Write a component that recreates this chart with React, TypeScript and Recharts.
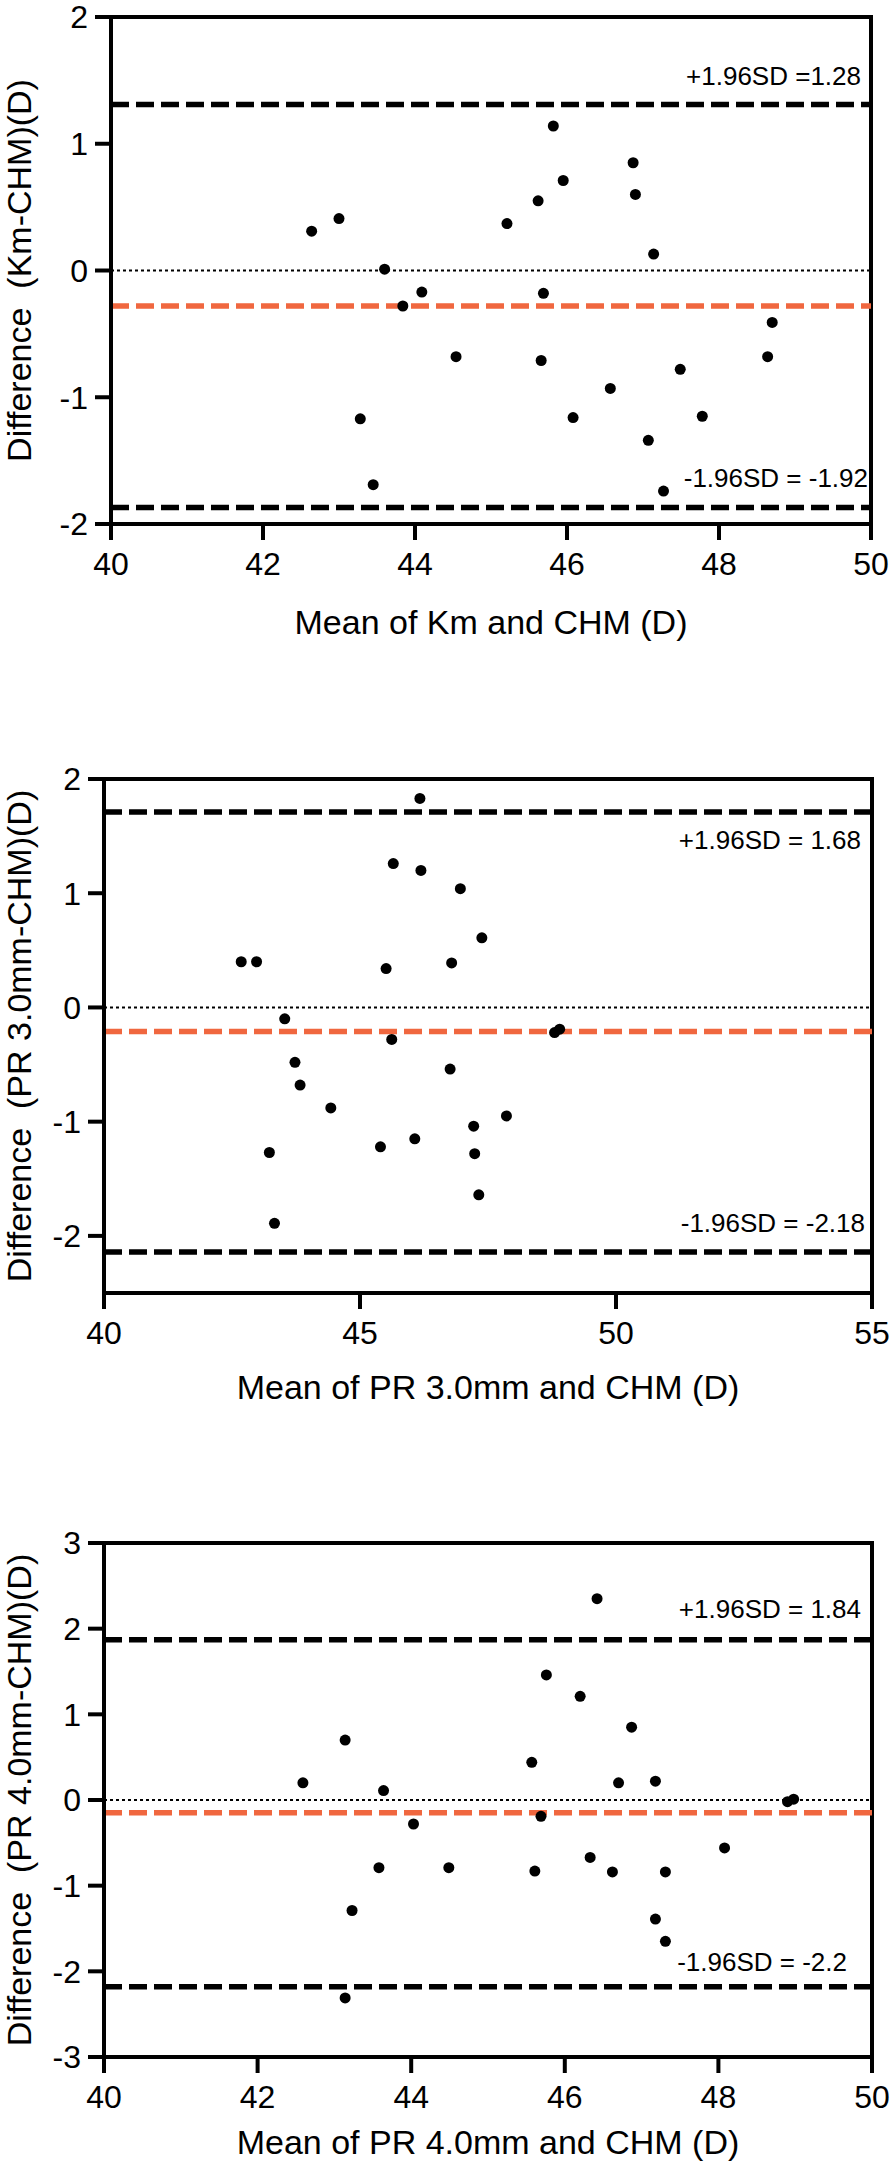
import { ScatterChart, Scatter, XAxis, YAxis, ReferenceLine, ReferenceArea, Label } from 'recharts';

const FONT = '"Liberation Sans", Arial, Helvetica, sans-serif';
const ORANGE = '#F0673F';

// Panel 1: Km vs CHM
const kmMeans = [42.64, 43.0, 43.6, 43.84, 44.09, 44.54, 43.28, 43.45, 45.21, 45.62, 45.82, 45.95, 45.69, 45.66, 46.08, 46.57, 46.87, 46.9, 47.14, 47.07, 47.27, 47.49, 47.78, 48.64, 48.7];
const kmDiffs = [0.31, 0.41, 0.01, -0.28, -0.17, -0.68, -1.17, -1.69, 0.37, 0.55, 1.14, 0.71, -0.18, -0.71, -1.16, -0.93, 0.85, 0.6, 0.13, -1.34, -1.74, -0.78, -1.15, -0.68, -0.41];
const kmLimits = [1.31, -0.28, -1.87]; // upper, mean, lower
const kmLimitText = ['+1.96SD =1.28', '-1.96SD = -1.92'];

// Panel 2: PR 3.0mm vs CHM
const pr3Means = [42.68, 42.98, 43.53, 43.73, 43.83, 44.43, 43.23, 43.33, 45.51, 45.65, 45.62, 45.4, 46.07, 46.17, 46.19, 46.96, 46.79, 46.76, 47.38, 47.22, 47.24, 47.32, 47.86, 48.8, 48.9];
const pr3Diffs = [0.4, 0.4, -0.1, -0.48, -0.68, -0.88, -1.27, -1.89, 0.34, 1.26, -0.28, -1.22, -1.15, 1.83, 1.2, 1.04, 0.39, -0.54, 0.61, -1.04, -1.28, -1.64, -0.95, -0.22, -0.19];
const pr3Limits = [1.71, -0.21, -2.14];
const pr3LimitText = ['+1.96SD = 1.68', '-1.96SD = -2.18'];

// Panel 3: PR 4.0mm vs CHM
const pr4Means = [42.59, 43.14, 43.23, 43.14, 43.64, 43.58, 44.03, 44.49, 45.57, 45.76, 45.69, 45.61, 46.2, 46.42, 46.33, 46.62, 46.7, 46.87, 47.18, 47.18, 47.31, 47.31, 48.08, 48.9, 48.98];
const pr4Diffs = [0.2, 0.7, -1.29, -2.31, 0.11, -0.79, -0.28, -0.79, 0.44, 1.46, -0.19, -0.83, 1.21, 2.35, -0.67, -0.84, 0.2, 0.85, 0.22, -1.39, -0.84, -1.65, -0.56, -0.02, 0.01];
const pr4Limits = [1.87, -0.15, -2.18];
const pr4LimitText = ['+1.96SD = 1.84', '-1.96SD = -2.2'];

const ticks40to50 = [40, 42, 44, 46, 48, 50];
const ticks40to55 = [40, 45, 50, 55];
const ticksPm2 = [-2, -1, 0, 1, 2];
const ticksPm3 = [-3, -2, -1, 0, 1, 2, 3];

const toPoints = (xs: number[], ys: number[]) => xs.map((x, i) => ({ x, y: ys[i] }));

const refLabel = (text: string, above: boolean, pad: number, gap: number) => (props: any) => {
  const vb = props.viewBox || {};
  const x = (vb.x ?? 0) + (vb.width ?? 0) - pad;
  const y = above ? (vb.y ?? 0) - gap : (vb.y ?? 0) + gap;
  return (
    <text x={x} y={y} textAnchor="end" dominantBaseline="central" fontSize={26} fontFamily={FONT} fill="#000">
      {text}
    </text>
  );
};

interface PanelProps {
  top: number;
  height: number;
  plotTop: number;
  plotBottom: number;
  plotLeft: number;
  plotRight: number;
  points: { x: number; y: number }[];
  xDomain: [number, number];
  xTicks: number[];
  yDomain: [number, number];
  yTicks: number[];
  limits: number[];
  limitText: string[];
  upperAbove: boolean;
  labelPads: number[];
  labelGaps: number[];
  xTitle: string;
  yTitle: string;
  xTitleGap: number;
}

function BlandAltman(p: PanelProps) {
  const plotMid = (p.plotTop + p.plotBottom) / 2;
  const xMid = (p.plotLeft + p.plotRight) / 2;
  const axisStyle = { stroke: '#000', strokeWidth: 4 };
  const tickStyle = { fontSize: 32, fill: '#000', fontFamily: FONT };
  const dashed = '18 7';
  return (
    <div style={{ position: 'absolute', left: 0, top: p.top, width: 894, height: p.height }}>
      <ScatterChart
        width={894}
        height={p.height}
        margin={{ top: p.plotTop, right: 894 - p.plotRight, bottom: 0, left: 0 }}
      >
        <XAxis
          dataKey="x"
          type="number"
          domain={p.xDomain}
          ticks={p.xTicks}
          interval={0}
          allowDataOverflow
          height={p.height - p.plotBottom}
          tickSize={16}
          tickMargin={12}
          axisLine={axisStyle}
          tickLine={axisStyle}
          tick={tickStyle}
        >
          <Label
            content={() => (
              <text x={xMid} y={p.plotBottom + p.xTitleGap} textAnchor="middle" dominantBaseline="central" fontSize={34} fontFamily={FONT} fill="#000">
                {p.xTitle}
              </text>
            )}
          />
        </XAxis>
        <YAxis
          dataKey="y"
          type="number"
          domain={p.yDomain}
          ticks={p.yTicks}
          interval={0}
          allowDataOverflow
          width={p.plotLeft}
          tickSize={16}
          tickMargin={7}
          axisLine={axisStyle}
          tickLine={axisStyle}
          tick={tickStyle}
        >
          <Label
            content={() => (
              <text
                x={19}
                y={plotMid}
                transform={`rotate(-90, 19, ${plotMid})`}
                textAnchor="middle"
                dominantBaseline="central"
                fontSize={34}
                fontFamily={FONT}
                fill="#000"
              >
                {p.yTitle}
              </text>
            )}
          />
        </YAxis>
        <ReferenceLine y={0} stroke="#000" strokeWidth={2} strokeDasharray="3 3" />
        <ReferenceLine
          y={p.limits[0]}
          stroke="#000"
          strokeWidth={5.5}
          strokeDasharray={dashed}
          label={refLabel(p.limitText[0], p.upperAbove, p.labelPads[0], p.labelGaps[0])}
        />
        <ReferenceLine y={p.limits[1]} stroke={ORANGE} strokeWidth={5.5} strokeDasharray={dashed} />
        <ReferenceLine
          y={p.limits[2]}
          stroke="#000"
          strokeWidth={5.5}
          strokeDasharray={dashed}
          label={refLabel(p.limitText[1], true, p.labelPads[1], p.labelGaps[1])}
        />
        <ReferenceArea
          x1={p.xDomain[0]}
          x2={p.xDomain[1]}
          y1={p.yDomain[0]}
          y2={p.yDomain[1]}
          fill="none"
          fillOpacity={0}
          stroke="#000"
          strokeWidth={4}
          ifOverflow="visible"
        />
        <Scatter
          data={p.points}
          isAnimationActive={false}
          shape={(s: any) => <circle cx={s.cx} cy={s.cy} r={5.5} fill="#000" />}
        />
      </ScatterChart>
    </div>
  );
}

export default function App() {
  return (
    <div style={{ position: 'absolute', left: 0, top: 0, width: 894, height: 2168, background: '#fff' }}>
      <BlandAltman
        top={0}
        height={680}
        plotTop={17}
        plotBottom={524}
        plotLeft={111}
        plotRight={871}
        points={toPoints(kmMeans, kmDiffs)}
        xDomain={[40, 50]}
        xTicks={ticks40to50}
        yDomain={[-2, 2]}
        yTicks={ticksPm2}
        limits={kmLimits}
        limitText={kmLimitText}
        upperAbove={true}
        labelPads={[10, 3]}
        labelGaps={[28, 30]}
        xTitle="Mean of Km and CHM (D)"
        yTitle={'Difference\u00A0 (Km-CHM)(D)'}
        xTitleGap={98}
      />
      <BlandAltman
        top={680}
        height={740}
        plotTop={99}
        plotBottom={613}
        plotLeft={104}
        plotRight={872}
        points={toPoints(pr3Means, pr3Diffs)}
        xDomain={[40, 55]}
        xTicks={ticks40to55}
        yDomain={[-2.5, 2]}
        yTicks={ticksPm2}
        limits={pr3Limits}
        limitText={pr3LimitText}
        upperAbove={false}
        labelPads={[11, 7]}
        labelGaps={[28, 29]}
        xTitle="Mean of PR 3.0mm and CHM (D)"
        yTitle={'Difference\u00A0 (PR 3.0mm-CHM)(D)'}
        xTitleGap={94}
      />
      <BlandAltman
        top={1400}
        height={768}
        plotTop={143}
        plotBottom={657}
        plotLeft={104}
        plotRight={872}
        points={toPoints(pr4Means, pr4Diffs)}
        xDomain={[40, 50]}
        xTicks={ticks40to50}
        yDomain={[-3, 3]}
        yTicks={ticksPm3}
        limits={pr4Limits}
        limitText={pr4LimitText}
        upperAbove={true}
        labelPads={[11, 25]}
        labelGaps={[31, 25]}
        xTitle="Mean of PR 4.0mm and CHM (D)"
        yTitle={'Difference\u00A0 (PR 4.0mm-CHM)(D)'}
        xTitleGap={85}
      />
    </div>
  );
}
